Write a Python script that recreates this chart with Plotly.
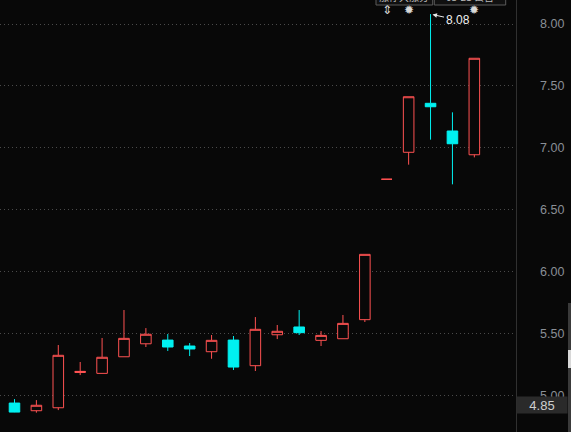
import plotly.graph_objects as go

# ---- data ----
idx   = list(range(23))
opens = [4.955, 4.936, 4.874, 4.898, 5.183, 5.176, 5.310, 5.415, 5.445, 5.397,
         5.351, 5.445, 5.238, 5.488, 5.551, 5.443, 5.456, 5.610, 6.745, 6.963,
         7.359, 7.135, 6.943]
highs = [4.965, 4.968, 4.960, 5.405, 5.268, 5.462, 5.688, 5.542, 5.494, 5.421,
         5.486, 5.478, 5.631, 5.567, 5.688, 5.518, 5.648, 6.138, 6.745, 7.412,
         8.080, 7.286, 7.723]
lows  = [4.930, 4.862, 4.858, 4.879, 5.162, 5.176, 5.310, 5.389, 5.357, 5.316,
         5.294, 5.203, 5.195, 5.453, 5.486, 5.397, 5.456, 5.591, 6.745, 6.863,
         7.065, 6.704, 6.922]
closes = [4.940, 4.863, 4.918, 5.322, 5.192, 5.306, 5.459, 5.492, 5.389, 5.373,
          5.443, 5.227, 5.532, 5.516, 5.505, 5.483, 5.580, 6.138, 6.745, 7.412,
          7.331, 7.032, 7.723]
y_ticks = [5.0, 5.5, 6.0, 6.5, 7.0, 7.5, 8.0]
y_tick_labels = ["5.00", "5.50", "6.00", "6.50", "7.00", "7.50", "8.00"]
high_label = "8.08"
high_idx = 20
last_price = "4.85"
tag_texts = ["涨停大涨分", "03-21 公告"]

BG = "#080808"
RED = "#ff5252"
CYAN = "#00f0f0"

fig = go.Figure()
fig.add_trace(go.Candlestick(
    x=idx, open=opens, high=highs, low=lows, close=closes,
    increasing=dict(line=dict(color=RED, width=1), fillcolor=BG),
    decreasing=dict(line=dict(color=CYAN, width=1), fillcolor=CYAN),
    whiskerwidth=0, hoverinfo="skip", showlegend=False,
))

XD = 515.5 / 571
fig.update_layout(
    width=571, height=432,
    margin=dict(l=0, r=0, t=0, b=0),
    paper_bgcolor=BG, plot_bgcolor=BG,
    boxgap=0.31,
    showlegend=False,
    xaxis=dict(domain=[0, XD], range=[0.338, 23.88], showgrid=False,
               showticklabels=False, zeroline=False, rangeslider=dict(visible=False),
               fixedrange=True),
    yaxis=dict(side="right", anchor="x", range=[4.702, 8.194],
               tickvals=y_ticks, ticktext=y_tick_labels,
               showgrid=True, gridcolor="#4a4a4a", griddash="1px,3px", gridwidth=1,
               zeroline=False, showline=True, linecolor="#303030", linewidth=1,
               ticks="", ticklabelstandoff=21, fixedrange=True,
               tickfont=dict(family="Liberation Sans, Arial", size=12.5, color="#8a8f96")),
    font=dict(family="Liberation Sans, Arial"),
)

# 8.08 high marker
fig.add_annotation(x=high_idx, y=highs[high_idx], xref="x", yref="y", text=high_label,
                   showarrow=True, ax=27, ay=6, arrowhead=2, arrowsize=0.9, arrowwidth=1,
                   arrowcolor="#e8e8e8", standoff=2,
                   font=dict(family="Liberation Sans, Arial", size=12, color="#f0f0f0"))

# last price label
fig.add_annotation(x=541.7 / 571, y=1 - 405 / 432, xref="paper", yref="paper",
                   xanchor="center", yanchor="middle",
                   text=last_price, showarrow=False, bgcolor="#2a2a2a",
                   width=48, height=14, borderpad=1,
                   font=dict(family="Liberation Sans, Arial", size=13, color="#cfcfcf"))

# top tag boxes (cut off at the top)
for (x0, x1), t in zip([(376, 432.7), (434.3, 505.7)], tag_texts):
    fig.add_shape(type="rect", xref="paper", yref="paper",
                  x0=x0 / 571, x1=x1 / 571, y0=1 - 5 / 432, y1=1.05,
                  line=dict(color="#5a5a5a", width=1), fillcolor="#101010")
    fig.add_annotation(x=(x0 + x1) / 2 / 571, y=1, xref="paper", yref="paper",
                       xanchor="center", text=t, showarrow=False, yanchor="bottom", yshift=-6,
                       font=dict(family="Noto Sans CJK SC", size=10, color="#b8b8b8"))

# icons above candles
for xi, sym in [(18, "⇕"), (19, "✹"), (22, "✹")]:
    fig.add_annotation(x=xi, y=1 - 10 / 432, xref="x", yref="paper", text=sym,
                       xanchor="center", showarrow=False, yanchor="middle",
                       font=dict(family="DejaVu Sans", size=12, color="#d8d8d8"))

# right edge scrollbar
fig.add_shape(type="rect", xref="paper", yref="paper", x0=568 / 571, x1=1,
              y0=0, y1=1 - 303 / 432, line=dict(width=0), fillcolor="#3a3a3a")
fig.add_shape(type="rect", xref="paper", yref="paper", x0=568 / 571, x1=1,
              y0=1 - 368 / 432, y1=1 - 350 / 432, line=dict(width=0), fillcolor="#d8d8d8")

fig.write_html("out.html", config={"displayModeBar": False, "staticPlot": True},
               post_script="document.body.style.margin='0px';")
